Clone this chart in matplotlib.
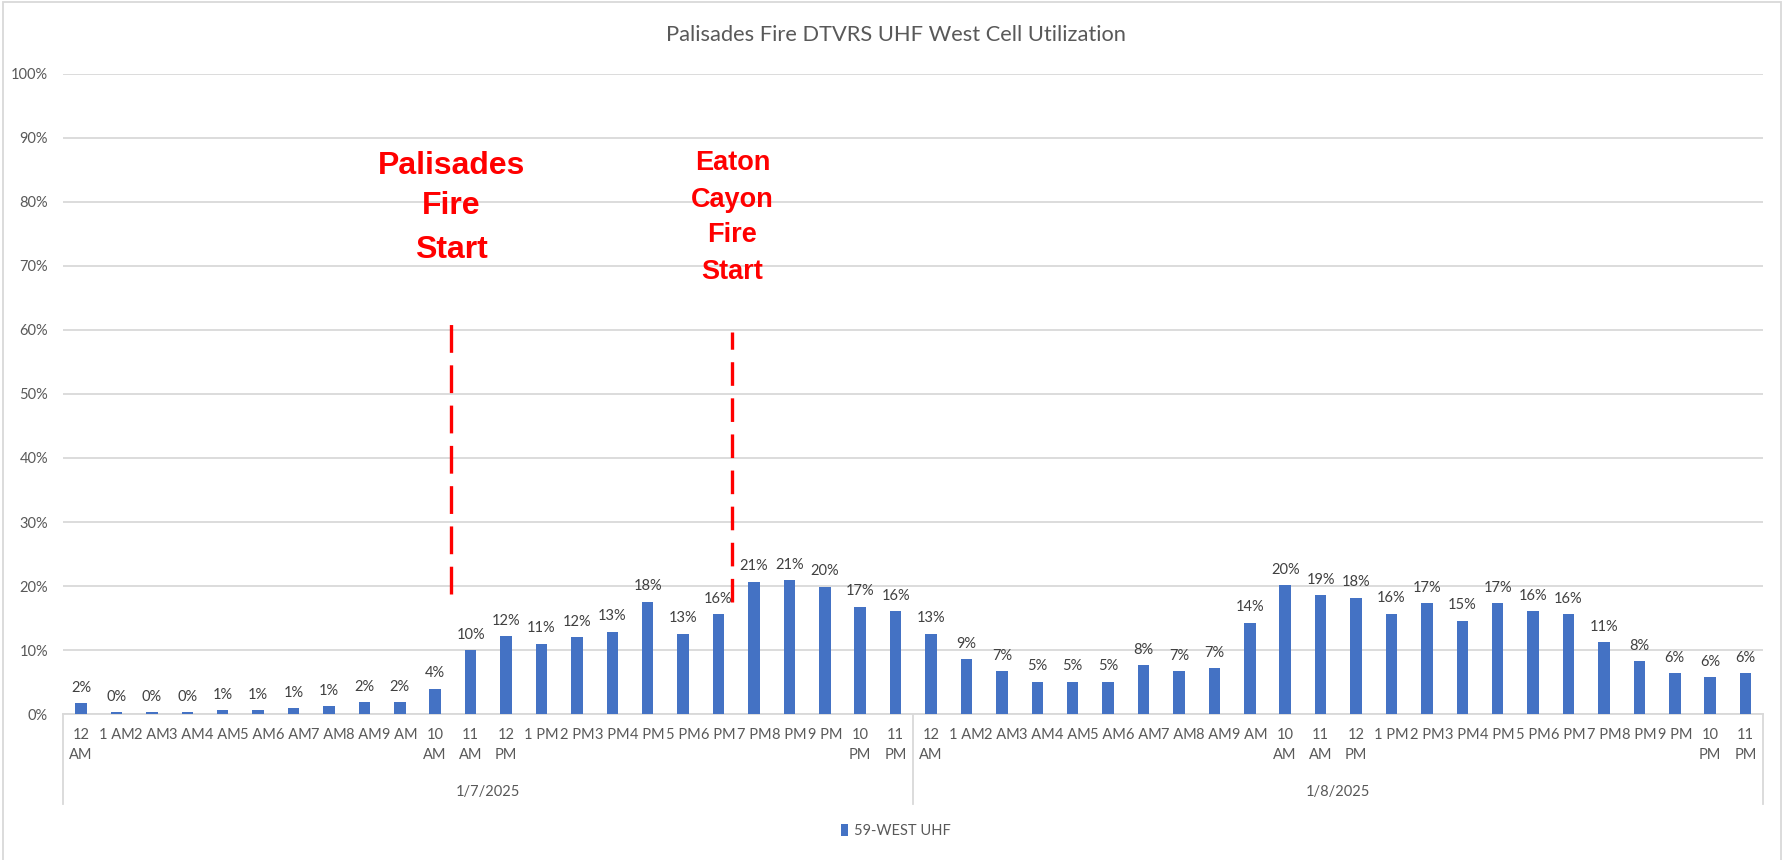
import matplotlib
matplotlib.use("Agg")
import matplotlib.pyplot as plt
from matplotlib.patches import Rectangle
from matplotlib.lines import Line2D
import matplotlib.transforms as mtransforms

# ---- data ----
dates = ["1/7/2025", "1/8/2025"]
hour_labels = ["12\nAM", "1 AM", "2 AM", "3 AM", "4 AM", "5 AM", "6 AM", "7 AM", "8 AM", "9 AM",
               "10\nAM", "11\nAM", "12\nPM", "1 PM", "2 PM", "3 PM", "4 PM", "5 PM", "6 PM",
               "7 PM", "8 PM", "9 PM", "10\nPM", "11\nPM"]
day1_values = [1.7, 0.3, 0.3, 0.3, 0.6, 0.6, 1.0, 1.25, 1.9, 1.9, 4.0, 10.0,
               12.2, 11.0, 12.0, 12.9, 17.6, 12.6, 15.6, 20.7, 20.9, 19.9, 16.8, 16.1]
day2_values = [12.6, 8.6, 6.7, 5.1, 5.1, 5.1, 7.7, 6.7, 7.2, 14.3, 20.1, 18.6,
               18.2, 15.7, 17.3, 14.6, 17.3, 16.1, 15.6, 11.3, 8.3, 6.4, 5.8, 6.4]
series_name = "59-WEST UHF"
title = "Palisades Fire DTVRS UHF West Cell Utilization"
yticks = [0, 10, 20, 30, 40, 50, 60, 70, 80, 90, 100]

# annotations: (x position in category units, line y-range, text lines with baselines)
pal_x, pal_y0, pal_y1 = 10.45, 18.8, 61.8
eat_x, eat_y0, eat_y1 = 18.39, 17.5, 59.7
pal_lines = [("Palisades", 84.27), ("Fire", 78.03), ("Start", 71.25)]
eat_lines = [("Eaton", 84.94), ("Cayon", 79.12), ("Fire", 73.66), ("Start", 67.93)]

values = day1_values + day2_values
labels = hour_labels + hour_labels
n = len(values)
xs = list(range(n))

plt.rcParams['font.family'] = ['Lato', 'DejaVu Sans']
plt.rcParams['lines.scale_dashes'] = False

W, H = 1783, 860
fig = plt.figure(figsize=(W / 100, H / 100), dpi=100)
ax = fig.add_axes([63.3 / W, (H - 714.3) / H, 1700 / W, 640.8 / H])

blue = "#4472C4"
grid_c = "#D9D9D9"
txt_c = "#595959"
lab_c = "#404040"

bars = ax.bar(xs, values, width=0.325, color=blue, zorder=3, label=series_name)
ax.set_xlim(-0.5, n - 0.5)
ax.set_ylim(0, 100)
ax.set_yticks(yticks)
ax.set_yticklabels([f"{v}%" for v in yticks])
ax.yaxis.grid(True, color=grid_c, linewidth=1.3, zorder=0)
ax.set_axisbelow(True)
for s in ["top", "right", "left"]:
    ax.spines[s].set_visible(False)
ax.spines["bottom"].set_color(grid_c)
ax.spines["bottom"].set_linewidth(1.3)
ax.tick_params(axis="y", length=0, pad=11, labelsize=10.5, labelcolor=txt_c)
ax.set_xticks(xs)
ax.set_xticklabels(labels, linespacing=1.55)
ax.tick_params(axis="x", length=0, pad=10, labelsize=10.5, labelcolor=txt_c)

# data labels
for x, v in zip(xs, values):
    ax.annotate(f"{v:.0f}%", (x, v), xytext=(0, 6), textcoords="offset points",
                ha="center", va="bottom", fontsize=10.5, color=lab_c)

# category group dividers and date labels
trans = mtransforms.blended_transform_factory(ax.transData, ax.transAxes)
for xd in [-0.5, 23.5, n - 0.5]:
    ax.add_line(Line2D([xd, xd], [0, -0.14], transform=trans, color=grid_c,
                       linewidth=1.3, clip_on=False))
for i, d in enumerate(dates):
    ax.text(i * 24 + 11.5, -0.121, d, transform=trans, ha="center", va="center",
            fontsize=10.5, color=txt_c)

# fire start markers
ax.plot([pal_x, pal_x], [pal_y0, pal_y1], color="#FF0000", linewidth=2.4,
        dashes=(20, 9), zorder=4)
ax.plot([eat_x, eat_x], [eat_y0, eat_y1], color="#FF0000", linewidth=2.4,
        dashes=(17, 9), zorder=4)
for t, y in pal_lines:
    ax.text(pal_x, y, t, ha="center", va="baseline", fontsize=23, fontweight="bold",
            color="#FF0000", family=["Liberation Sans", "DejaVu Sans"])
for t, y in eat_lines:
    ax.text(eat_x, y, t, ha="center", va="baseline", fontsize=19.5, fontweight="bold",
            color="#FF0000", family=["Liberation Sans", "DejaVu Sans"])

# title
fig.text(896 / W, 1 - 35 / H, title, ha="center", va="center", fontsize=15.75, color=txt_c)

# legend
fig.legend(handles=[bars], labels=[series_name], loc="center",
           bbox_to_anchor=(896 / W, 1 - 831 / H), frameon=False, fontsize=10.5,
           labelcolor=txt_c, handlelength=0.5, handleheight=0.8, handletextpad=0.4)

# chart border
fig.patches.append(Rectangle((3 / W, -0.01), (1781 - 3) / W, 1 - 2 / H + 0.01,
                             transform=fig.transFigure, fill=False,
                             edgecolor="#D9D9D9", linewidth=1.3))

fig.savefig("out.png", dpi=100)
